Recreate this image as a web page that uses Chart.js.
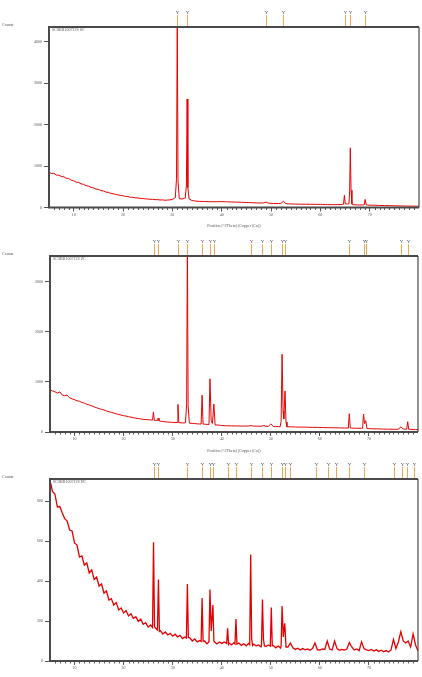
<!DOCTYPE html>
<html>
<head>
<meta charset="utf-8">
<script src="https://cdn.jsdelivr.net/npm/chart.js@4.4.0/dist/chart.umd.min.js"></script>
<style>
  body { margin: 0; background: #fff; width: 422px; height: 677px; overflow: hidden; position: relative; }
  .panel { position: absolute; left: 0; width: 422px; }
</style>
</head>
<body>
<div class="panel" style="top:0;height:232px"><canvas id="c1" width="422" height="232"></canvas></div>
<div class="panel" style="top:230px;height:225px"><canvas id="c2" width="422" height="225"></canvas></div>
<div class="panel" style="top:455px;height:222px"><canvas id="c3" width="422" height="222"></canvas></div>
<script>
// scan: 5..80 deg 2theta, 0.5 deg step
const angleStart = 5, angleStep = 0.5;
const xTicks = [10, 20, 30, 40, 50, 60, 70];

// --- pattern 1 ---
const counts1 = [
  852, 822, 826, 784, 780, 748, 742, 706, 698, 660,
  646, 612, 606, 570, 560, 526, 518, 486, 474, 446,
  436, 408, 400, 374, 366, 342, 334, 316, 306, 290,
  284, 268, 264, 248, 246, 232, 230, 220, 216, 208,
  206, 198, 198, 189, 190, 182, 184, 175, 180, 184,
  195, 230, 400, 215, 205, 225, 300, 200, 168, 160,
  152, 148, 146, 144, 142, 140, 141, 138, 139, 141,
  142, 140, 138, 136, 134, 132, 130, 128, 126, 124,
  121, 118, 116, 114, 112, 110, 108, 112, 128, 106,
  100, 98, 96, 95, 98, 150, 94, 88, 86, 84,
  82, 82, 80, 80, 79, 78, 78, 77, 76, 76,
  75, 74, 72, 70, 70, 68, 68, 70, 72, 76,
  100, 85, 100, 72, 65, 62, 60, 62, 100, 60,
  56, 55, 54, 52, 50, 48, 46, 46, 44, 42,
  41, 40, 38, 38, 36, 35, 34, 33, 32, 31,
  30
];
const peaks1 = [
  [[30.6, 235], [30.85, 700], [31.0, 4700], [31.15, 650], [31.4, 215]],
  [[32.6, 225], [32.85, 520], [33.0, 2620], [33.15, 480], [33.4, 205]],
  [[64.7, 78], [64.88, 295], [65.05, 88]],
  [[65.8, 90], [65.95, 420], [66.08, 1440], [66.22, 420], [66.4, 80]],
  [[68.9, 64], [69.08, 195], [69.3, 62]]
];
const marks1 = [31.0, 33.0, 48.9, 52.5, 64.9, 66.1, 69.1];
const yTicks1 = [0, 1000, 2000, 3000, 4000];

// --- pattern 2 ---
const counts2 = [
  845, 818, 802, 776, 800, 735, 724, 735, 682, 660,
  645, 622, 612, 590, 575, 552, 540, 520, 500, 485,
  465, 452, 438, 420, 405, 392, 378, 362, 350, 336,
  325, 318, 305, 296, 285, 275, 268, 260, 252, 248,
  245, 240, 232, 228, 222, 215, 210, 204, 198, 195,
  191, 188, 186, 184, 182, 180, 178, 176, 172, 168,
  162, 160, 158, 156, 152, 150, 148, 145, 140, 136,
  128, 126, 124, 123, 122, 121, 120, 120, 119, 119,
  118, 120, 128, 118, 116, 115, 114, 130, 114, 113,
  160, 112, 110, 108, 106, 105, 104, 104, 103, 102,
  100, 99, 98, 97, 96, 95, 94, 93, 92, 91,
  90, 89, 88, 87, 86, 85, 84, 83, 82, 81,
  80, 80, 82, 78, 76, 75, 74, 73, 72, 70,
  66, 65, 64, 62, 62, 60, 58, 57, 56, 55,
  54, 53, 58, 100, 60, 55, 60, 52, 50, 48,
  48
];
const peaks2 = [
  [[25.9, 238], [26.08, 398], [26.25, 234]],
  [[26.9, 230], [27.05, 278], [27.2, 226]],
  [[30.9, 190], [31.08, 549], [31.25, 188]],
  [[32.6, 185], [32.85, 560], [33.0, 3800], [33.15, 520], [33.4, 178]],
  [[35.8, 160], [36.0, 735], [36.2, 158]],
  [[37.4, 150], [37.6, 1060], [37.85, 230], [38.1, 170], [38.4, 557], [38.65, 140]],
  [[51.9, 104], [52.1, 210], [52.3, 1550], [52.5, 420], [52.65, 260], [52.9, 820], [53.1, 200], [53.3, 102]],
  [[65.8, 80], [66.0, 364], [66.2, 80]],
  [[68.7, 73], [68.9, 358], [69.1, 170], [69.35, 225], [69.6, 70]],
  [[77.7, 55], [77.9, 205], [78.1, 55]]
];
const marks2 = [26.1, 27.0, 31.0, 32.95, 36.0, 37.6, 38.4, 45.9, 48.3, 50.1, 52.3, 52.9, 65.9, 68.9, 69.5, 76.6, 77.9];
const yTicks2 = [0, 1000, 2000, 3000];

// --- pattern 3 ---
const counts3 = [
  905, 848, 835, 770, 772, 740, 712, 700, 655, 650,
  590, 580, 520, 525, 480, 490, 440, 455, 408, 420,
  375, 385, 340, 350, 305, 312, 280, 292, 255, 265,
  240, 252, 225, 236, 214, 222, 198, 210, 184, 192,
  170, 180, 158, 165, 140, 152, 135, 145, 130, 138,
  124, 134, 120, 128, 112, 120, 105, 116, 100, 110,
  95, 102, 88, 100, 86, 98, 90, 96, 85, 95,
  88, 95, 84, 90, 80, 92, 82, 90, 78, 86,
  76, 88, 72, 84, 76, 80, 70, 82, 72, 80,
  68, 78, 66, 75, 65, 78, 64, 70, 90, 66,
  58, 64, 55, 62, 56, 60, 54, 62, 90, 56,
  55, 60, 58, 100, 60, 56, 100, 62, 54, 58,
  55, 60, 92, 70, 55, 60, 52, 96, 62, 56,
  52, 58, 50, 56, 48, 54, 46, 52, 45, 55,
  108, 62, 95, 147, 100, 90, 100, 70, 135, 80,
  50
];
const peaks3 = [
  [[25.9, 168], [26.1, 594], [26.3, 172]],
  [[26.9, 155], [27.1, 408], [27.3, 148]],
  [[32.8, 115], [33.0, 385], [33.2, 118]],
  [[35.8, 98], [36.0, 315], [36.2, 100]],
  [[37.4, 96], [37.6, 358], [37.85, 150], [38.2, 280], [38.4, 100]],
  [[41.0, 88], [41.2, 163], [41.4, 85]],
  [[42.7, 86], [42.9, 210], [43.1, 84]],
  [[45.7, 82], [45.9, 533], [46.1, 110], [46.3, 78]],
  [[48.1, 78], [48.3, 307], [48.5, 110], [48.7, 76]],
  [[49.9, 74], [50.1, 267], [50.3, 76]],
  [[52.1, 74], [52.3, 275], [52.55, 120], [52.85, 188], [53.1, 70]]
];
const marks3 = [26.1, 27.1, 33.0, 36.0, 37.6, 38.3, 41.2, 42.9, 45.9, 48.3, 50.0, 52.3, 52.9, 53.9, 59.2, 61.6, 63.3, 66.0, 68.9, 75.1, 76.8, 77.8, 79.2];
const yTicks3 = [0, 200, 400, 600, 800];

const FONT = '"Liberation Serif", "DejaVu Serif", serif';
Chart.defaults.font.family = FONT;

// grid points + hand-read peak points (grid points under a peak are dropped)
function buildPoints(counts, peaks) {
  let pts = counts.map((c, i) => ({ x: angleStart + i * angleStep, y: c }));
  peaks.forEach(pk => {
    const lo = pk[0][0], hi = pk[pk.length - 1][0];
    pts = pts.filter(p => p.x < lo || p.x > hi);
    pk.forEach(([a, c]) => pts.push({ x: a, y: c }));
  });
  return pts.sort((a, b) => a.x - b.x);
}

function decor(o) {
  return {
    id: 'xrdDecor',
    afterDraw(chart) {
      const { ctx, chartArea: a, scales: { x } } = chart;
      ctx.save();
      // minor ticks every degree
      ctx.strokeStyle = '#555';
      ctx.lineWidth = 1;
      for (let d = 6; d < 80; d++) {
        if (d % 10 === 0) continue;
        const px = Math.round(x.getPixelForValue(d)) + 0.5;
        ctx.beginPath();
        ctx.moveTo(px, a.bottom);
        ctx.lineTo(px, a.bottom + 2.5);
        ctx.stroke();
      }
      // frame
      ctx.strokeStyle = '#4a4a4a';
      ctx.lineWidth = 2;
      ctx.beginPath();
      ctx.moveTo(a.left, a.bottom);
      ctx.lineTo(a.left, a.top);
      ctx.lineTo(a.right, a.top);
      ctx.moveTo(a.left - 1, a.bottom);
      ctx.lineTo(a.right, a.bottom);
      ctx.stroke();
      ctx.lineWidth = 1.2;
      ctx.beginPath();
      ctx.moveTo(a.right, a.top);
      ctx.lineTo(a.right, a.bottom);
      ctx.stroke();
      // reference markers
      ctx.font = '5px ' + FONT;
      ctx.textAlign = 'center';
      ctx.textBaseline = 'middle';
      o.marks.forEach(m => {
        const px = Math.round(x.getPixelForValue(m)) + 0.5;
        ctx.strokeStyle = '#f0a850';
        ctx.lineWidth = 1;
        ctx.beginPath();
        ctx.moveTo(px, a.top - 12);
        ctx.lineTo(px, a.top - 1);
        ctx.stroke();
        ctx.fillStyle = '#444';
        ctx.fillText('Y', px, a.top - 14);
      });
      // labels
      ctx.font = '4px ' + FONT;
      ctx.fillStyle = '#555';
      ctx.textAlign = 'left';
      ctx.fillText('Counts', 2, a.top - 2.5);
      ctx.fillText(o.sample, a.left + 3, a.top + 3);
      ctx.restore();
    }
  };
}

function makeChart(id, o) {
  new Chart(document.getElementById(id), {
    type: 'line',
    data: {
      datasets: [{
        data: buildPoints(o.counts, o.peaks),
        borderColor: '#e40000',
        borderWidth: o.lineWidth,
        pointRadius: 0,
        tension: 0
      }]
    },
    options: {
      responsive: false,
      animation: false,
      devicePixelRatio: 1,
      layout: { padding: { top: o.padTop, right: o.padRight, left: 0, bottom: 0 } },
      plugins: { legend: { display: false }, tooltip: { enabled: false } },
      scales: {
        x: {
          type: 'linear', min: 5, max: 80,
          afterBuildTicks: s => { s.ticks = xTicks.map(v => ({ value: v })); },
          afterFit: s => { s.height = o.xHeight; },
          grid: { drawOnChartArea: false, tickLength: 4, color: '#555' },
          border: { display: false },
          ticks: { autoSkip: false, maxRotation: 0, padding: 1, color: '#555', font: { size: 4 },
                   callback: v => String(v) },
          title: {
            display: o.xTitle, text: 'Position [°2Theta] (Copper (Cu))',
            color: '#555', font: { size: 4 }, padding: { top: 0, bottom: o.titlePad }
          }
        },
        y: {
          min: 0, max: o.yMax,
          afterBuildTicks: s => { s.ticks = o.yTicks.map(v => ({ value: v })); },
          afterFit: s => { s.width = o.yWidth; },
          grid: { drawOnChartArea: false, tickLength: 5, color: '#555' },
          border: { display: false },
          ticks: { autoSkip: false, padding: 2, color: '#555', font: { size: 4 },
                   callback: v => String(v) }
        }
      }
    },
    plugins: [decor(o)]
  });
}

makeChart('c1', { counts: counts1, peaks: peaks1, marks: marks1, yTicks: yTicks1, yMax: 4360, lineWidth: 1,
  sample: 'SCSBR100712S SC', padTop: 27, padRight: 3, yWidth: 49, xHeight: 24.5, xTitle: true, titlePad: 4 });
makeChart('c2', { counts: counts2, peaks: peaks2, marks: marks2, yTicks: yTicks2, yMax: 3510, lineWidth: 1,
  sample: 'SCSBR100712S ZC', padTop: 26, padRight: 4, yWidth: 50, xHeight: 23, xTitle: true, titlePad: 2 });
makeChart('c3', { counts: counts3, peaks: peaks3, marks: marks3, yTicks: yTicks3, yMax: 910, lineWidth: 1.3,
  sample: 'SCSBR100712S HC', padTop: 24, padRight: 4, yWidth: 50, xHeight: 16, xTitle: false, titlePad: 0 });
</script>
</body>
</html>
